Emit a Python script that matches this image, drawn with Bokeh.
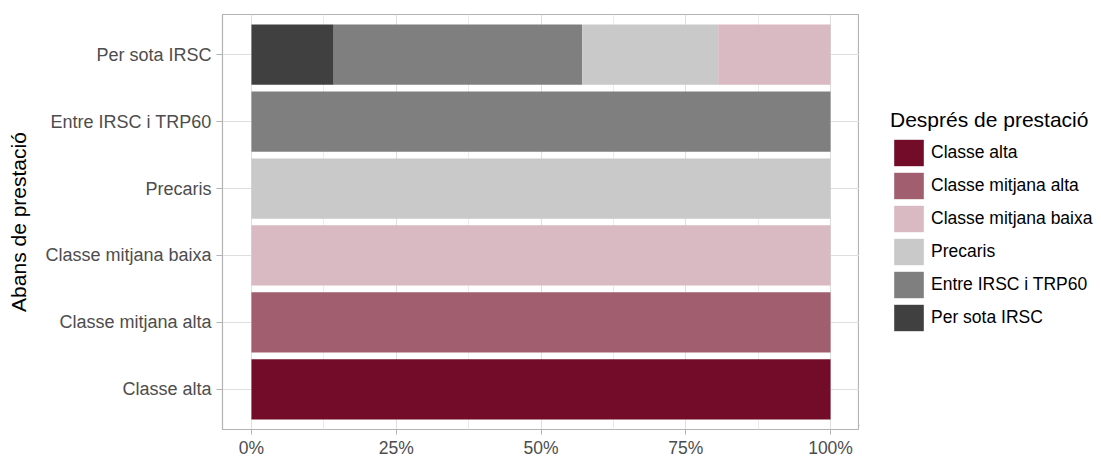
from bokeh.plotting import figure
from bokeh.layouts import row
from bokeh.models import (ColumnDataSource, FactorRange, Range1d, Legend, LegendItem,
                          FixedTicker, NumeralTickFormatter)
from bokeh.embed import file_html
from bokeh.resources import INLINE

# ---- data ----
abans = ["Classe alta", "Classe mitjana alta", "Classe mitjana baixa",
         "Precaris", "Entre IRSC i TRP60", "Per sota IRSC"]  # bottom -> top

despres = ["Per sota IRSC", "Entre IRSC i TRP60", "Precaris",
           "Classe mitjana baixa", "Classe mitjana alta", "Classe alta"]  # stack order (left -> right)

per_sota_irsc = [0, 0, 0, 0, 0, 0.142]
entre_irsc_trp60 = [0, 0, 0, 0, 1, 0.429]
precaris = [0, 0, 0, 1, 0, 0.235]
classe_mitjana_baixa = [0, 0, 1, 0, 0, 0.194]
classe_mitjana_alta = [0, 1, 0, 0, 0, 0]
classe_alta = [1, 0, 0, 0, 0, 0]

colors = ["#404040", "#7f7f7f", "#c9c9c9", "#d9b9c2", "#a05e6e", "#720c28"]

x_ticks = [0, 0.25, 0.5, 0.75, 1.0]
x_minor = [0.125, 0.375, 0.625, 0.875]

FONT = "Liberation Sans"

source = ColumnDataSource(dict(
    abans=abans,
    s0=per_sota_irsc, s1=entre_irsc_trp60, s2=precaris,
    s3=classe_mitjana_baixa, s4=classe_mitjana_alta, s5=classe_alta,
))

p = figure(frame_width=637, frame_height=415, output_backend="svg", toolbar_location=None,
           y_range=FactorRange(*abans, range_padding=0.1, range_padding_units="absolute"),
           x_range=Range1d(-0.05, 1.05),
           min_border_left=222, min_border_right=0, min_border_top=14, min_border_bottom=27)

renderers = p.hbar_stack(["s0", "s1", "s2", "s3", "s4", "s5"], y="abans", height=0.9,
                         color=colors, line_color=None, source=source)

# frame / background
p.outline_line_color = "#b3b3b3"
p.outline_line_width = 1.2
p.background_fill_color = "white"
p.border_fill_color = "white"

# grids
p.xgrid.ticker = FixedTicker(ticks=x_ticks, minor_ticks=x_minor)
p.xgrid.grid_line_color = "#dedede"
p.xgrid.grid_line_width = 1
p.xgrid.minor_grid_line_color = "#ebebeb"
p.xgrid.minor_grid_line_width = 1
p.ygrid.grid_line_color = "#dedede"
p.ygrid.grid_line_width = 1

# x axis
p.xaxis.ticker = FixedTicker(ticks=x_ticks)
p.xaxis.formatter = NumeralTickFormatter(format="0%")
p.xaxis.axis_line_color = None
p.xaxis.major_tick_line_color = "#b3b3b3"
p.xaxis.major_tick_out = 5
p.xaxis.major_tick_in = 0
p.xaxis.minor_tick_line_color = None
p.xaxis.major_label_text_font = FONT
p.xaxis.major_label_text_font_size = "17.5px"
p.xaxis.major_label_text_color = "#4d4d4d"
p.xaxis.major_label_standoff = 3

# y axis
p.yaxis.axis_label = "Abans de prestació"
p.yaxis.axis_label_text_font = FONT
p.yaxis.axis_label_text_font_size = "21px"
p.yaxis.axis_label_text_font_style = "normal"
p.yaxis.axis_label_text_color = "#000000"
p.yaxis.axis_label_standoff = 12
p.yaxis.axis_line_color = None
p.yaxis.major_tick_line_color = "#b3b3b3"
p.yaxis.major_tick_out = 6
p.yaxis.major_tick_in = 0
p.yaxis.major_label_text_font = FONT
p.yaxis.major_label_text_font_size = "18px"
p.yaxis.major_label_text_color = "#4d4d4d"
p.yaxis.major_label_standoff = 5

# ---- legend panel (separate figure holding only the legend) ----
p2 = figure(width=242, height=456, output_backend="svg", toolbar_location=None,
            x_axis_type=None, y_axis_type=None, x_range=Range1d(0, 1), y_range=Range1d(0, 1),
            min_border_left=0, min_border_right=0, min_border_top=0, min_border_bottom=0)
p2.outline_line_color = None
p2.xgrid.visible = False
p2.ygrid.visible = False
p2.background_fill_color = "white"
p2.border_fill_color = "white"

# off-screen proxy bars, only used to draw the legend keys
leg_renderers = [p2.hbar(y=[-10], left=[-10], right=[-9], height=0.9, color=c, line_color=None)
                 for c in colors]
items = [LegendItem(label=despres[i], renderers=[leg_renderers[i]]) for i in reversed(range(6))]
legend = Legend(items=items, location=(31, 91), orientation="vertical",
                title="Després de prestació", title_text_font=FONT, title_text_font_size="21px",
                title_text_font_style="normal",
                title_text_color="#000000", title_standoff=4,
                label_text_font=FONT, label_text_font_size="17.5px", label_text_color="#000000",
                glyph_width=37, glyph_height=33, label_standoff=4, spacing=0,
                padding=0, margin=0, border_line_color=None, background_fill_alpha=0,
                label_height=33)
p2.add_layout(legend, "center")

layout = row(p, p2, spacing=0)

open("out.html", "w").write(file_html(layout, INLINE))
